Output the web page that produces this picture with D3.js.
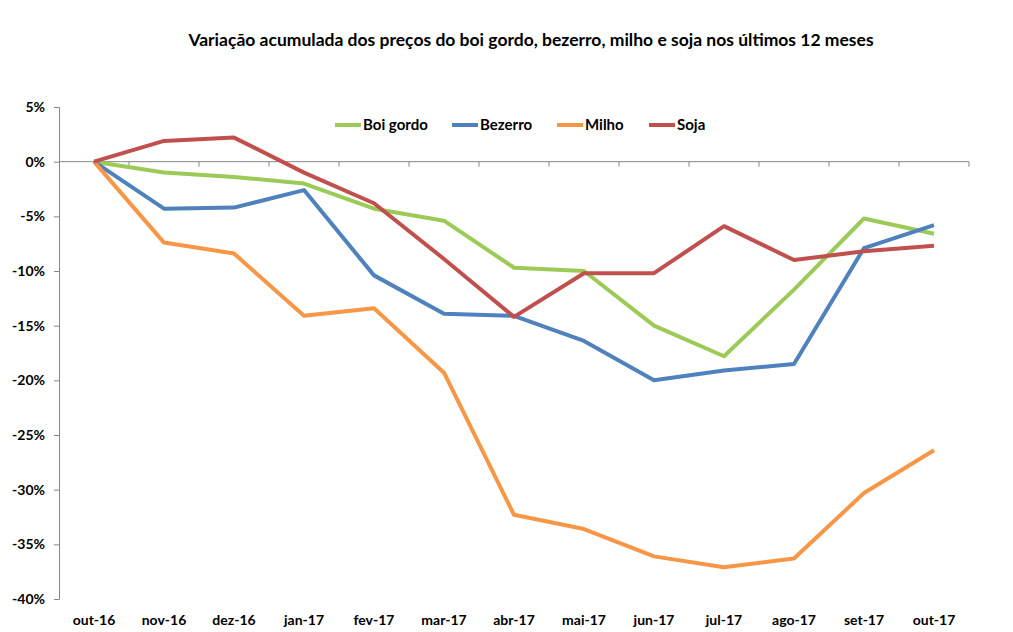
<!DOCTYPE html>
<html>
<head>
<meta charset="utf-8">
<script src="https://cdn.jsdelivr.net/npm/d3@7"></script>
<style>
  body { margin: 0; background: #fff; }
  text { font-family: Lato, "Open Sans", sans-serif; font-weight: bold; fill: #000; }
</style>
</head>
<body>
<svg id="chart" width="1013" height="632"></svg>
<script>
const months = ["out-16", "nov-16", "dez-16", "jan-17", "fev-17", "mar-17", "abr-17", "mai-17", "jun-17", "jul-17", "ago-17", "set-17", "out-17"];
const boiGordo = [0, -1.0, -1.4, -2.0, -4.3, -5.4, -9.7, -10.0, -15.0, -17.8, -11.7, -5.2, -6.6];
const bezerro = [0, -4.3, -4.2, -2.6, -10.4, -13.9, -14.1, -16.4, -20.0, -19.1, -18.5, -7.9, -5.8];
const milho = [0, -7.4, -8.4, -14.1, -13.4, -19.3, -32.3, -33.6, -36.1, -37.1, -36.3, -30.3, -26.4];
const soja = [0, 1.9, 2.2, -1.0, -3.8, -8.9, -14.2, -10.2, -10.2, -5.9, -9.0, -8.2, -7.7];
const yTicks = [5, 0, -5, -10, -15, -20, -25, -30, -35, -40];

const series = [
  {name: "Boi gordo", values: boiGordo, color: "#9BCB56"},
  {name: "Bezerro", values: bezerro, color: "#4F81BD"},
  {name: "Milho", values: milho, color: "#F79646"},
  {name: "Soja", values: soja, color: "#C0504D"}
];

const svg = d3.select("#chart");
const margin = {left: 59, right: 44, top: 107, bottom: 33};
const width = 1013 - margin.left - margin.right;
const height = 632 - margin.top - margin.bottom;

const x = d3.scaleBand().domain(months).range([margin.left, margin.left + width]);
const y = d3.scaleLinear().domain([-40, 5]).range([margin.top + height, margin.top]);

// title
svg.append("text")
    .attr("x", 531)
    .attr("y", 46)
    .attr("text-anchor", "middle")
    .style("font-size", "17.5px")
    .text("Variação acumulada dos preços do boi gordo, bezerro, milho e soja nos últimos 12 meses");

// y axis
const yAxis = svg.append("g")
    .attr("transform", `translate(${margin.left},0)`)
    .call(d3.axisLeft(y).tickValues(yTicks).tickSize(5).tickPadding(9).tickFormat(d => d + "%"));
yAxis.select(".domain").attr("stroke", "#868686");
yAxis.selectAll(".tick line").attr("stroke", "#868686");
yAxis.selectAll("text").style("font-size", "14px").style("font-family", "Lato, sans-serif");

// x axis along 0%
const xAxis = svg.append("g")
    .attr("transform", `translate(0,${y(0)})`);
xAxis.append("line")
    .attr("x1", margin.left).attr("x2", margin.left + width)
    .attr("stroke", "#868686");
xAxis.selectAll(".xt")
    .data(months)
    .join("line")
    .attr("x1", d => x(d) + x.bandwidth())
    .attr("x2", d => x(d) + x.bandwidth())
    .attr("y1", 0).attr("y2", 5)
    .attr("stroke", "#868686");

// x labels at bottom
svg.append("g").selectAll("text")
    .data(months)
    .join("text")
    .attr("x", d => x(d) + x.bandwidth() / 2)
    .attr("y", 625)
    .attr("text-anchor", "middle")
    .style("font-size", "14px")
    .text(d => d);

// lines
const line = d3.line()
    .x((d, i) => x(months[i]) + x.bandwidth() / 2)
    .y(d => y(d));

svg.append("g").selectAll("path")
    .data(series)
    .join("path")
    .attr("d", d => line(d.values))
    .attr("fill", "none")
    .attr("stroke", d => d.color)
    .attr("stroke-width", 4)
    .attr("stroke-linejoin", "round");

// legend
const legendX = [335, 452, 557, 649];
const legend = svg.append("g").selectAll("g")
    .data(series)
    .join("g")
    .attr("transform", (d, i) => `translate(${legendX[i]},125)`);
legend.append("line")
    .attr("x1", 0).attr("x2", 26)
    .attr("stroke", d => d.color)
    .attr("stroke-width", 4);
legend.append("text")
    .attr("x", 28)
    .attr("y", 5)
    .style("font-size", "15px")
    .text(d => d.name);
</script>
</body>
</html>
